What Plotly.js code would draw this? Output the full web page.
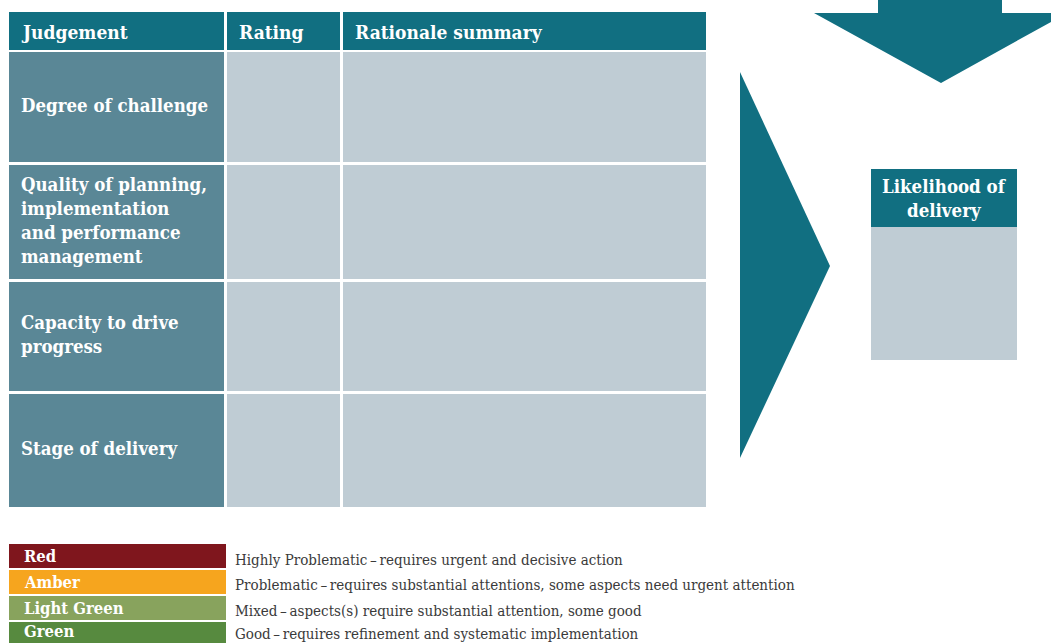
<!DOCTYPE html>
<html>
<head>
<meta charset="utf-8">
<script src="https://cdn.plot.ly/plotly-3.0.1.min.js"></script>
<style>html,body{margin:0;padding:0;background:#fff;}#chart{width:1051px;height:643px;}</style>
</head>
<body>
<div id="chart"></div>
<script>
// ---- content ----
const headers = ['Judgement', 'Rating', 'Rationale summary'];
const judgements = [
  'Degree of challenge',
  'Quality of planning,<br>implementation<br>and performance<br>management',
  'Capacity to drive<br>progress',
  'Stage of delivery'
];
const ratingNames = ['Red', 'Amber', 'Light Green', 'Green'];
const ratingDescriptions = [
  'Highly Problematic\u2009\u2013\u2009requires urgent and decisive action',
  'Problematic\u2009\u2013\u2009requires substantial attentions, some aspects need urgent attention',
  'Mixed\u2009\u2013\u2009aspects(s) require substantial attention, some good',
  'Good\u2009\u2013\u2009requires refinement and systematic implementation'
];
const outcomeLabel = 'Likelihood of<br>delivery';

// ---- styles ----
const ratingColors = ['#7f161d', '#f6a51e', '#88a35d', '#578a3f'];
const teal = '#116f81';
const judgeFill = '#5a8796';
const cellFill = '#bfccd4';
const FONT = '"DejaVu Serif Condensed", "DejaVu Serif", serif';

// ---- layout geometry (pixel grid) ----
const colEdges = [[9, 224], [227, 340], [343, 706]];
const headerBand = [12, 50];
const rowBands = [[52, 162], [165, 279], [282, 391], [394, 507]];
const legendBands = [[544, 568], [570, 594], [596, 620], [622, 646]];
const legendBar = [9, 226];
const descY = [560, 585, 611, 634];
const lineGap = 24;

const shapes = [];
const annotations = [];
function rect(x0, x1, y0, y1, color) {
  shapes.push({type: 'rect', xref: 'x', yref: 'y', x0, x1, y0, y1, fillcolor: color, line: {width: 0}, layer: 'below'});
}
function bold(t) { return t.split('<br>').map(s => '<b>' + s + '</b>').join('<br>'); }
function label(text, x, y, opts) {
  const lines = text.split('<br>');
  lines.forEach((ln, i) => {
    annotations.push(Object.assign({
      xref: 'x', yref: 'y', x: x, y: y + (i - (lines.length - 1) / 2) * lineGap,
      text: ln, showarrow: false, xanchor: 'left', yanchor: 'middle',
      font: {family: FONT, size: 18.5, color: '#ffffff'}
    }, opts || {}));
  });
}

// header
headers.forEach((h, c) => {
  rect(colEdges[c][0], colEdges[c][1], headerBand[0], headerBand[1], teal);
  label(bold(h), colEdges[c][0] + 10, (headerBand[0] + headerBand[1]) / 2 + 1, {font: {family: FONT, size: 19, color: '#ffffff'}});
});
// body
judgements.forEach((j, r) => {
  const [y0, y1] = rowBands[r];
  rect(colEdges[0][0], colEdges[0][1], y0, y1, judgeFill);
  rect(colEdges[1][0], colEdges[1][1], y0, y1, cellFill);
  rect(colEdges[2][0], colEdges[2][1], y0, y1, cellFill);
  label(bold(j), colEdges[0][0] + 10, (y0 + y1) / 2 - 2);
});

// big right arrow
shapes.push({type: 'path', xref: 'x', yref: 'y', path: 'M740,72 L830,266 L740,458 Z', fillcolor: teal, line: {width: 0}});
// down arrow from top
shapes.push({type: 'path', xref: 'x', yref: 'y',
  path: 'M878,0 L1002,0 L1002,13 L1067,13 L941,83 L814,13 L878,13 Z', fillcolor: teal, line: {width: 0}});

// outcome box
rect(871, 1017, 169, 227, teal);
rect(871, 1017, 227, 360, cellFill);
label(bold(outcomeLabel), 944, 198, {xanchor: 'center'});

// rating legend
ratingNames.forEach((n, i) => {
  const [y0, y1] = legendBands[i];
  rect(legendBar[0], legendBar[1], y0, y1, ratingColors[i]);
  label(bold(n), 22, (y0 + Math.min(y1, 643)) / 2 - (i === 3 ? 1 : 0), {font: {family: FONT, size: 16.5, color: '#ffffff'}});
  label(ratingDescriptions[i], 233, descY[i], {font: {family: FONT, size: 15, color: '#3a3a3a'}});
});

const layout = {
  width: 1051, height: 643,
  margin: {l: 0, r: 0, t: 0, b: 0},
  paper_bgcolor: '#ffffff', plot_bgcolor: '#ffffff',
  xaxis: {range: [0, 1051], visible: false, fixedrange: true},
  yaxis: {range: [643, 0], visible: false, fixedrange: true},
  showlegend: false,
  shapes: shapes,
  annotations: annotations
};
Plotly.newPlot('chart', [{x: [], y: [], type: 'scatter'}], layout, {displayModeBar: false, staticPlot: true});
</script>
</body>
</html>
